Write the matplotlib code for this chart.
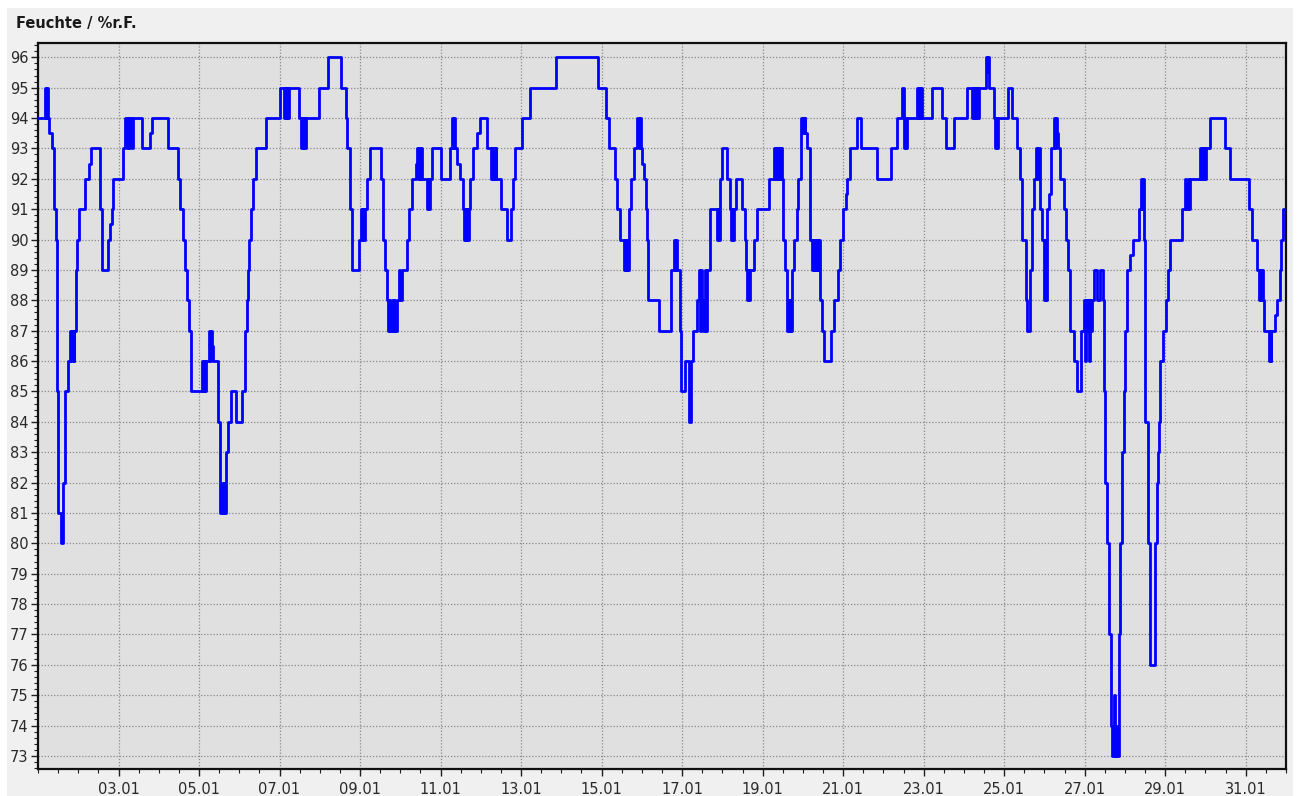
import matplotlib
matplotlib.use('Agg')
import matplotlib.pyplot as plt
import matplotlib.dates as mdates
from matplotlib.patches import Rectangle
from matplotlib.ticker import MultipleLocator
import pandas as pd

# ---- data: (hours since 01.01 00:00, relative humidity %) change points ----
seg_0101_0501 = [
    (0, 94), (4.2, 95), (4.8, 94), (5.2, 95), (5.7, 94), (6.0, 95), (6.2, 94), (6.8, 93.5),
    (8.2, 93), (9.5, 91), (10.7, 90), (11.6, 85), (12.1, 81), (13.5, 80), (14.7, 82), (16.1, 85),
    (17.7, 86), (19.1, 87), (19.8, 86), (20.5, 87), (21.2, 86), (21.6, 87), (22.7, 89), (23.5, 90),
    (24.5, 91), (28.0, 92), (30.4, 92.5), (31.6, 93), (37.0, 91), (38.4, 89), (42.0, 90),
    (42.9, 90.5), (43.9, 91), (44.9, 92), (50.5, 93), (51.9, 94), (53.0, 93), (53.5, 94),
    (54.5, 93), (55.0, 94), (56.0, 93), (56.5, 94), (61.8, 93), (66.8, 93.5), (68.0, 94),
    (77.7, 93), (83.7, 92), (84.6, 91), (86.2, 90), (87.6, 89), (89.0, 88), (90.2, 87), (91.0, 85),
]
seg_0501_0901 = [
    (97.6, 86), (98.2, 85), (98.8, 86), (99.4, 85), (100.0, 86), (101.9, 87), (102.5, 86),
    (103.0, 87), (103.5, 86.5), (104.5, 86), (107.5, 84), (108.5, 81), (109.5, 82), (110.2, 81),
    (110.8, 82), (111.4, 81), (112.0, 83), (113.0, 84), (114.8, 85), (118.0, 84), (121.4, 85),
    (123.4, 87), (124.4, 88), (125.4, 89), (126.0, 90), (126.8, 91), (128.4, 92), (129.7, 93),
    (135.7, 94), (144.3, 95), (146.6, 94), (147.2, 95), (147.8, 94), (148.4, 95), (149.0, 94),
    (149.6, 95), (155.6, 94), (157.0, 93), (157.6, 94), (158.2, 93), (158.8, 94), (159.3, 93),
    (159.6, 94), (167.5, 95), (172.9, 96), (180.8, 95), (183.4, 94), (184.4, 93), (185.8, 91),
    (187.4, 89), (191.4, 90),
]
seg_0901_1301 = [
    (192.3, 91), (193.0, 90), (193.6, 91), (194.2, 90), (194.8, 91), (196.3, 92), (197.7, 93),
    (204.6, 92), (205.8, 90), (206.8, 89), (207.8, 88), (208.5, 87), (209.5, 88), (210.0, 87),
    (211.0, 88), (211.5, 87), (212.5, 88), (213.0, 87), (214.2, 88), (215.5, 89), (216.0, 88),
    (217.2, 89), (220.2, 90), (221.1, 91), (223.1, 92), (225.5, 92.5), (226.0, 93), (226.6, 92),
    (227.2, 93), (227.8, 92), (228.3, 93), (229.1, 92), (232.1, 91), (232.7, 92), (233.2, 91),
    (233.7, 92), (235.1, 93), (240.4, 92), (245.6, 93), (246.6, 94), (247.2, 93), (247.8, 94),
    (248.3, 93), (249.6, 92.5), (251.5, 92), (253.5, 91), (254.2, 90), (254.8, 91), (255.4, 90),
    (256.0, 91), (256.6, 90), (257.0, 91), (257.5, 92), (259.5, 93), (261.5, 93.5), (263.5, 94),
    (267.8, 93), (269.8, 92), (270.4, 93), (271.0, 92), (271.6, 93), (272.2, 92), (272.8, 93),
    (273.3, 92), (276.2, 91), (279.4, 90), (282.1, 91), (283.3, 92), (284.1, 93), (288.7, 94),
]
seg_1301_1701 = [
    (293.3, 95), (308.6, 96), (333.8, 95), (338.9, 94), (340.3, 93), (343.7, 92), (345.3, 91),
    (346.9, 90), (349.3, 89), (349.9, 90), (350.5, 89), (351.1, 90), (351.7, 89), (352.3, 91),
    (353.6, 92), (355.2, 93), (357.2, 94), (358.0, 93), (358.6, 94), (359.6, 93), (360.2, 92.5),
    (361.2, 92), (362.2, 91), (363.0, 90), (363.6, 88), (370.1, 87), (377.5, 89), (379.1, 90),
    (379.7, 89), (380.3, 90), (380.9, 89), (382.7, 87),
]
seg_1701_2101 = [
    (383.1, 85), (386.0, 86), (388.0, 84), (389.4, 86), (390.6, 87), (392.6, 88), (394.0, 89),
    (394.6, 87), (395.2, 89), (396.0, 88), (396.6, 87), (397.4, 89), (398.0, 87), (398.9, 89),
    (400.5, 91), (404.9, 90), (405.5, 91), (406.0, 90), (406.5, 92), (407.9, 93), (410.9, 92),
    (412.5, 91), (413.0, 90), (413.6, 91), (414.2, 90), (414.8, 91), (416.4, 92), (419.8, 91),
    (421.2, 90), (422.2, 89), (422.8, 88), (423.3, 89), (423.8, 88), (424.4, 89), (426.8, 90),
    (428.4, 91), (435.7, 92), (438.6, 93), (439.2, 92), (439.8, 93), (440.4, 92), (441.0, 93),
    (441.6, 92), (442.2, 93), (442.8, 92), (443.2, 93), (443.6, 92), (444.2, 90), (445.6, 89),
    (446.6, 87), (447.2, 88), (447.8, 87), (448.4, 88), (449.0, 87), (449.6, 89), (450.6, 90),
    (452.2, 91), (453.0, 92), (455.0, 94), (455.6, 93.5), (456.2, 94), (456.8, 93.5), (457.2, 94),
    (457.5, 93.5), (458.5, 93), (460.1, 92), (460.5, 90), (461.5, 89), (462.1, 90), (462.7, 89),
    (463.3, 90), (463.9, 89), (464.5, 90), (465.1, 89), (465.6, 90), (466.1, 88), (467.5, 87),
    (468.5, 86), (472.8, 87), (474.8, 88), (476.8, 89), (478.0, 90),
]
seg_2101_2501 = [
    (480.0, 91), (481.4, 91.5), (482.4, 92), (484.0, 93), (488.3, 94), (490.9, 93), (500.2, 92),
    (508.6, 93), (512.2, 94), (515.1, 95), (516.5, 93), (517.1, 94), (517.7, 93), (518.2, 94),
    (524.1, 95), (524.7, 94), (525.3, 95), (525.9, 94), (526.5, 95), (527.1, 94), (533.0, 95),
    (539.0, 94), (541.5, 93), (546.3, 94), (553.9, 95), (556.8, 94), (557.4, 95), (558.0, 94),
    (558.6, 95), (559.2, 94), (559.8, 95), (560.4, 94), (561.0, 95), (565.4, 96), (566.0, 95.5),
    (566.6, 96), (567.2, 95), (569.8, 94), (570.3, 93), (570.9, 94), (571.5, 93), (572.1, 94),
    (578.1, 95),
]
seg_2501_2901 = [
    (580.7, 94), (583.7, 93), (585.3, 92), (586.8, 90), (589.2, 88), (589.6, 87), (591.6, 89),
    (592.6, 91), (594.0, 92), (595.2, 93), (595.8, 92), (596.4, 93), (597.2, 91), (598.6, 90),
    (599.6, 88), (600.2, 90), (600.8, 88), (601.5, 91), (602.5, 91.5), (603.9, 93), (605.5, 94),
    (606.1, 93), (606.7, 94), (607.3, 93.5), (607.9, 93), (609.5, 92), (611.5, 91), (613.1, 90),
    (613.9, 89), (615.1, 87), (617.4, 86), (619.4, 85), (622.0, 87), (623.4, 88), (624.0, 86),
    (624.6, 88), (625.2, 87), (625.8, 88), (626.4, 86), (627.0, 88), (627.6, 87), (628.2, 88),
    (629.3, 89), (631.3, 88), (632.9, 89), (634.9, 88), (635.3, 85), (636.3, 82), (637.3, 80),
    (638.7, 77), (639.7, 74), (640.3, 73), (641.3, 75), (642.0, 73), (642.6, 74), (643.3, 73),
    (644.3, 77), (645.2, 80), (646.2, 83), (647.2, 85), (648.2, 87), (649.2, 89), (651.2, 89.5),
    (652.8, 90), (656.2, 91), (657.6, 92), (658.2, 91), (658.8, 92), (659.2, 90), (660.1, 84),
    (661.7, 80), (663.1, 76), (666.1, 80), (667.1, 82), (667.5, 83), (668.3, 84), (669.1, 86),
    (670.7, 87), (672.7, 88), (673.5, 89), (675.0, 90),
]
seg_2901_3101 = [
    (682.0, 91), (684.0, 92), (684.6, 91), (685.3, 92), (685.9, 91), (687.0, 92), (693.0, 93),
    (693.6, 92), (694.2, 93), (694.8, 92), (695.4, 93), (696.0, 92), (696.5, 93), (698.9, 94),
    (707.9, 93), (710.8, 92), (721.8, 91), (723.8, 90), (726.7, 89), (727.7, 88), (728.3, 89),
    (728.9, 88), (729.5, 89), (730.1, 88), (730.7, 87), (733.7, 86), (734.3, 87), (734.9, 86),
    (735.3, 87), (737.7, 87.5), (738.7, 88), (740.3, 89), (741.2, 90), (742.2, 91),
]
period_hours = 744
y_ticks = list(range(73, 97))
title_text = 'Feuchte / %r.F.'

segments = [seg_0101_0501, seg_0501_0901, seg_0901_1301, seg_1301_1701,
            seg_1701_2101, seg_2101_2501, seg_2501_2901, seg_2901_3101]
pairs = [p for s in segments for p in s]
hrs = [p[0] for p in pairs] + [period_hours]
vals = [p[1] for p in pairs] + [pairs[-1][1]]

start = pd.Timestamp('2021-01-01 00:00')
times = start + pd.to_timedelta(hrs, unit='h')
end = start + pd.Timedelta(hours=period_hours)

W, H = 1299, 796
fig = plt.figure(figsize=(W / 100, H / 100), dpi=100, facecolor='white')
fig.patches.append(Rectangle((7 / W, 0), (1293 - 7) / W, 1 - 8 / H, transform=fig.transFigure,
                             facecolor='#f0f0f0', edgecolor='none', zorder=-10))

ax = fig.add_axes([38 / W, 1 - 769 / H, (1286 - 38) / W, (769 - 43) / H])
ax.set_facecolor('#e0e0e0')
ax.step(times, vals, where='post', color='#0000ff', lw=2.0, zorder=3)

ax.set_xlim(start, end)
ax.set_ylim(72.57, 96.47)

ax.xaxis.set_major_locator(mdates.DayLocator(bymonthday=range(3, 32, 2)))
ax.xaxis.set_major_formatter(mdates.DateFormatter('%d.%m'))
ax.xaxis.set_minor_locator(mdates.HourLocator(byhour=[0, 12]))
ax.set_yticks(y_ticks)
ax.yaxis.set_minor_locator(MultipleLocator(0.2))

ax.tick_params(axis='both', which='major', length=5, width=1, direction='out',
               labelsize=10.5, labelcolor='#2a2a2a', color='#202020')
ax.tick_params(axis='both', which='minor', length=3, width=0.8, color='#202020')
ax.tick_params(axis='y', which='major', pad=2)
ax.tick_params(axis='x', which='major', pad=4)

ax.grid(True, which='major', linestyle=(0, (1, 1.5)), color='#8a8a8a', linewidth=0.9)
ax.set_axisbelow(True)
for side, sp in ax.spines.items():
    sp.set_color('#101010')
    sp.set_linewidth(1.6)

fig.text(15.5 / W, 1 - 28.3 / H, title_text, fontsize=10.5, fontweight='bold',
         ha='left', va='baseline', color='#1a1a1a')

fig.savefig('out.png', dpi=100, facecolor=fig.get_facecolor())
